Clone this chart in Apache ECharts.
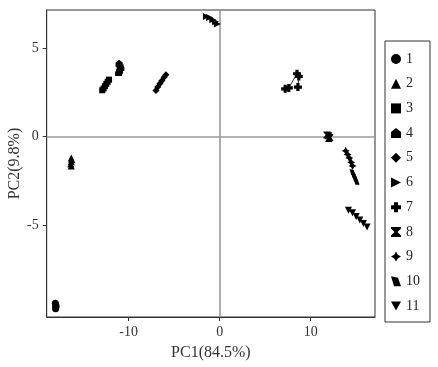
<!DOCTYPE html>
<html>
<head>
<meta charset="utf-8">
<script src="https://cdn.jsdelivr.net/npm/echarts@6/dist/echarts.min.js"></script>
<style>html,body{margin:0;padding:0;background:#fff}#c{width:438px;height:367px}</style>
</head>
<body>
<div id="c"></div>
<script>
var groupNames = ['1','2','3','4','5','6','7','8','9','10','11'];
var g1x = [-18.05,-18.0,-17.98,-18.0,-18.02], g1y = [-9.4,-9.5,-9.58,-9.65,-9.72];
var g2x = [-16.3,-16.25,-16.3,-16.35,-16.3], g2y = [-1.2,-1.3,-1.42,-1.55,-1.65];
var g3x = [-12.9,-12.75,-12.6,-12.45,-12.3,-12.15], g3y = [2.62,2.72,2.85,2.98,3.1,3.22];
var g4x = [-11.1,-11.0,-10.85,-10.95,-11.05], g4y = [3.62,3.75,3.9,4.05,4.15];
var g5x = [-7.0,-6.8,-6.55,-6.35,-6.1,-5.9], g5y = [2.6,2.8,3.0,3.15,3.35,3.5];
var g6x = [-1.45,-1.1,-0.75,-0.45,-0.25], g6y = [6.78,6.72,6.6,6.48,6.36];
var g7x = [7.2,7.6,8.5,8.7,8.6], g7y = [2.7,2.75,3.55,3.4,2.8];
var g8x = [11.8,11.95,12.1,12.0], g8y = [0.1,0.05,-0.05,-0.1];
var g9x = [13.85,14.05,14.25,14.45,14.6], g9y = [-0.8,-1.0,-1.2,-1.45,-1.65];
var g10x = [14.6,14.75,14.9,15.05], g10y = [-2.0,-2.18,-2.36,-2.55];
var g11x = [14.15,14.6,15.0,15.4,15.8,16.2], g11y = [-4.15,-4.3,-4.5,-4.7,-4.9,-5.1];
var xTicks = [-10, 0, 10];
var yTicks = [-5, 0, 5];

var groupsX = [g1x,g2x,g3x,g4x,g5x,g6x,g7x,g8x,g9x,g10x,g11x];
var groupsY = [g1y,g2y,g3y,g4y,g5y,g6y,g7y,g8y,g9y,g10y,g11y];
var symbols = [
  'circle',
  'triangle',
  'rect',
  'path://M5,0 L10,4 L10,10 L0,10 L0,4 Z',
  'diamond',
  'path://M0,0 L10,5 L0,10 Z',
  'path://M3,0 H7 V3 H10 V7 H7 V10 H3 V7 H0 V3 H3 Z',
  'path://M0,0 H10 V1.5 L6.5,5 L10,8.5 V10 H0 V8.5 L3.5,5 L0,1.5 Z',
  'path://M5,0 L6.8,3.2 L10,5 L6.8,6.8 L5,10 L3.2,6.8 L0,5 L3.2,3.2 Z',
  'path://M0,0 L7,1.5 L10,10 L3,10 Z',
  'path://M0,0 L10,0 L5,9 Z'
];
var sizes = [7,7,6,7,7,7,8,7,8,6,7];
var legendSizes = [9,8,9,9,8,9,10,9,10,9,9];

var series = groupNames.map(function(n, i){
  var s = {
    name: n, type: 'line',
    data: groupsX[i].map(function(x, j){ return [x, groupsY[i][j]]; }),
    symbol: symbols[i], symbolSize: sizes[i], showAllSymbol: true,
    lineStyle: {color: '#000', width: 0.8},
    itemStyle: {color: '#000'},
    z: 5, animation: false
  };
  if (i === 0) {
    s.markLine = {
      silent: true, symbol: 'none', animation: false,
      label: {show: false},
      lineStyle: {color: '#9a9a9a', width: 1.6, type: 'solid'},
      emphasis: {disabled: true},
      data: [{xAxis: 0}, {yAxis: 0}],
      z: 1
    };
  }
  return s;
});

var chart = echarts.init(document.getElementById('c'), null, {renderer: 'canvas'});
chart.setOption({
  backgroundColor: '#fff',
  animation: false,
  textStyle: {fontFamily: 'Liberation Serif'},
  grid: {left: 46.7, top: 10, right: 63, bottom: 50, show: true, borderColor: '#333', borderWidth: 1, containLabel: false, outerBoundsMode: 'none'},
  xAxis: {
    type: 'value', min: -19.0, max: 17.07,
    name: 'PC1(84.5%)', nameLocation: 'middle', nameGap: 28, nameMoveOverlap: false,
    nameTextStyle: {fontFamily: 'Liberation Serif', fontSize: 16, color: '#333'},
    axisLine: {show: true, onZero: false, lineStyle: {color: '#333', width: 1}},
    axisTick: {show: true, length: 4, inside: false, customValues: xTicks, lineStyle: {color: '#333'}},
    axisLabel: {customValues: xTicks, margin: 8, fontFamily: 'Liberation Serif', fontSize: 14, color: '#333'},
    splitLine: {show: false}
  },
  yAxis: {
    type: 'value', min: -10.18, max: 7.15,
    name: 'PC2(9.8%)', nameLocation: 'middle', nameGap: 24, nameMoveOverlap: false,
    nameTextStyle: {fontFamily: 'Liberation Serif', fontSize: 16, color: '#333'},
    axisLine: {show: true, onZero: false, lineStyle: {color: '#333', width: 1}},
    axisTick: {show: true, length: 4, inside: false, customValues: yTicks, lineStyle: {color: '#333'}},
    axisLabel: {customValues: yTicks, margin: 8, fontFamily: 'Liberation Serif', fontSize: 14, color: '#333'},
    splitLine: {show: false}
  },
  legend: {
    orient: 'vertical', left: 385, top: 41,
    padding: [11, 10, 9, 6],
    itemWidth: 10, itemHeight: 10, itemGap: 10.7,
    borderColor: '#333', borderWidth: 1,
    textStyle: {fontFamily: 'Liberation Serif', fontSize: 14, color: '#222'},
    data: groupNames.map(function(n, i){ return {name: n, icon: symbols[i], itemStyle: {color: '#000'}}; }),
    selectedMode: false
  },
  series: series
});
</script>
</body>
</html>
